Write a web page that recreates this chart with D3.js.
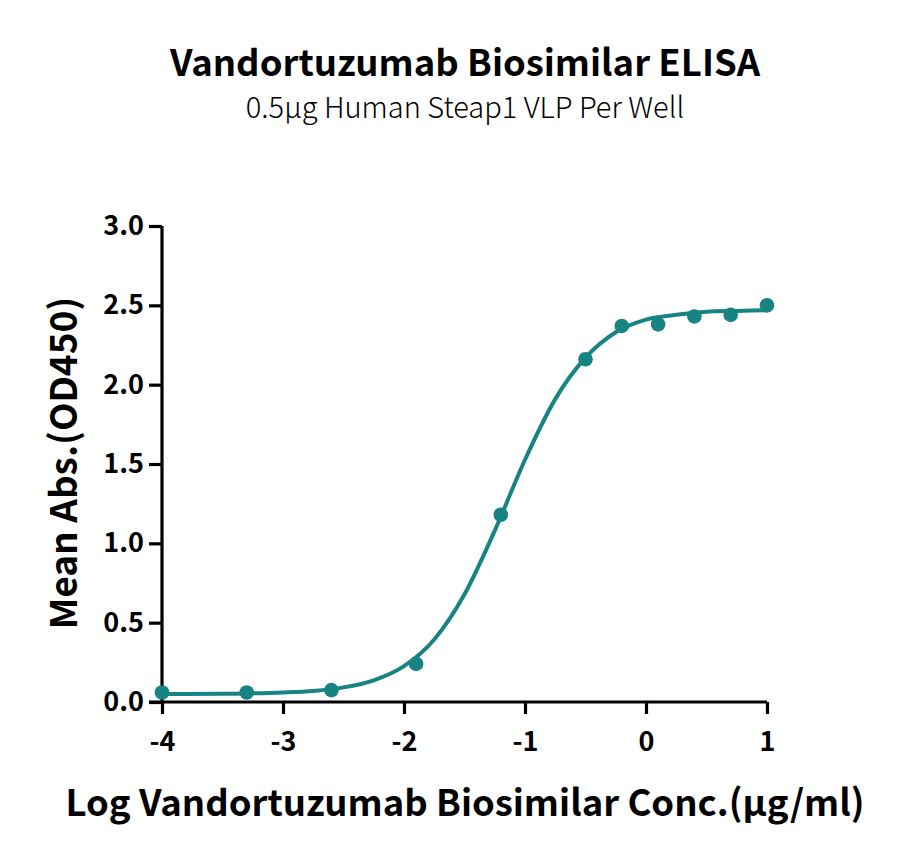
<!DOCTYPE html>
<html>
<head>
<meta charset="utf-8">
<script src="https://cdn.jsdelivr.net/npm/d3@7"></script>
<style>
  body { margin: 0; background: #fff; }
  svg { display: block; }
  text { font-family: "Noto Sans CJK SC", "Source Sans Pro", "Noto Sans", sans-serif; }
</style>
</head>
<body>
<svg id="chart" width="900" height="859"></svg>
<script>
// Measured points (log conc, OD450)
const logConc = [-4, -3.3, -2.6, -1.9, -1.2, -0.5, -0.2, 0.1, 0.4, 0.7, 1.0];
const meanAbs = [0.06, 0.06, 0.075, 0.24, 1.18, 2.16, 2.37, 2.38, 2.43, 2.44, 2.5];

// Fitted curve
const fitX = [-4, -3.5, -3, -2.75, -2.5, -2.25, -2, -1.75, -1.5, -1.25, -1, -0.75, -0.5, -0.25, 0, 0.25, 0.5, 0.75, 1];
const fitY = [0.05, 0.052, 0.06, 0.07, 0.092, 0.137, 0.226, 0.394, 0.679, 1.08, 1.527, 1.909, 2.17, 2.33, 2.41, 2.44, 2.46, 2.465, 2.47];

const xTicks = [-4, -3, -2, -1, 0, 1];
const yTicks = [0, 0.5, 1.0, 1.5, 2.0, 2.5, 3.0];

const color = "#178383";
const fontFamily = '"Noto Sans CJK SC", "Source Sans Pro", "Noto Sans", sans-serif';
const svg = d3.select("#chart");

const margin = { left: 162, right: 133, top: 226, bottom: 157 };
const W = 900, H = 859;

const x = d3.scaleLinear().domain([-4, 1]).range([margin.left, W - margin.right]);
const y = d3.scaleLinear().domain([0, 3]).range([H - margin.bottom, margin.top]);

// Title
svg.append("text")
  .attr("x", 465).attr("y", 76)
  .attr("text-anchor", "middle")
  .style("font-size", "36.5px").style("font-weight", "700")
  .text("Vandortuzumab Biosimilar ELISA");

svg.append("text")
  .attr("x", 465).attr("y", 118)
  .attr("text-anchor", "middle")
  .style("font-size", "29px").style("font-weight", "300")
  .text("0.5μg Human Steap1 VLP Per Well");

// Axes
const xAxis = svg.append("g")
  .attr("transform", `translate(0, ${y(0)})`)
  .call(d3.axisBottom(x).tickValues(xTicks).tickSize(12).tickPadding(18).tickFormat((d) => String(d)));

const yAxis = svg.append("g")
  .attr("transform", `translate(${x(-4)}, 0)`)
  .call(d3.axisLeft(y).tickValues(yTicks).tickSize(13).tickPadding(5).tickFormat(d3.format(".1f")));

[xAxis, yAxis].forEach((g) => {
  g.attr("font-family", fontFamily);
  g.select(".domain").attr("stroke", "#000").attr("stroke-width", 3.2);
  g.selectAll(".tick line").attr("stroke", "#000").attr("stroke-width", 3.2);
  g.selectAll(".tick text")
    .attr("fill", "#000")
    .style("font-size", "27px")
    .style("font-weight", "700");
});
// extend x domain line to the left end of y ticks
xAxis.select(".domain").attr("d", `M${x(-4) - 13},0H${x(1)}`);
yAxis.select(".domain").attr("d", `M0,${y(3)}V${y(0)}`);

// Axis labels
svg.append("text")
  .attr("x", 465).attr("y", 816)
  .attr("text-anchor", "middle")
  .style("font-size", "36.5px").style("font-weight", "700")
  .text("Log Vandortuzumab Biosimilar Conc.(μg/ml)");

svg.append("text")
  .attr("transform", `translate(77, ${(y(0) + y(3)) / 2 - 1}) rotate(-90)`)
  .attr("text-anchor", "middle")
  .style("font-size", "37px").style("font-weight", "700")
  .text("Mean Abs.(OD450)");

// Fitted curve
const line = d3.line()
  .x((d, i) => x(fitX[i]))
  .y((d) => y(d))
  .curve(d3.curveMonotoneX);

svg.append("path")
  .datum(fitY)
  .attr("fill", "none")
  .attr("stroke", color)
  .attr("stroke-width", 4)
  .attr("d", line);

// Points
svg.append("g")
  .selectAll("circle")
  .data(meanAbs)
  .enter()
  .append("circle")
  .attr("cx", (d, i) => x(logConc[i]))
  .attr("cy", (d) => y(d))
  .attr("r", 7.3)
  .attr("fill", color);
</script>
</body>
</html>
